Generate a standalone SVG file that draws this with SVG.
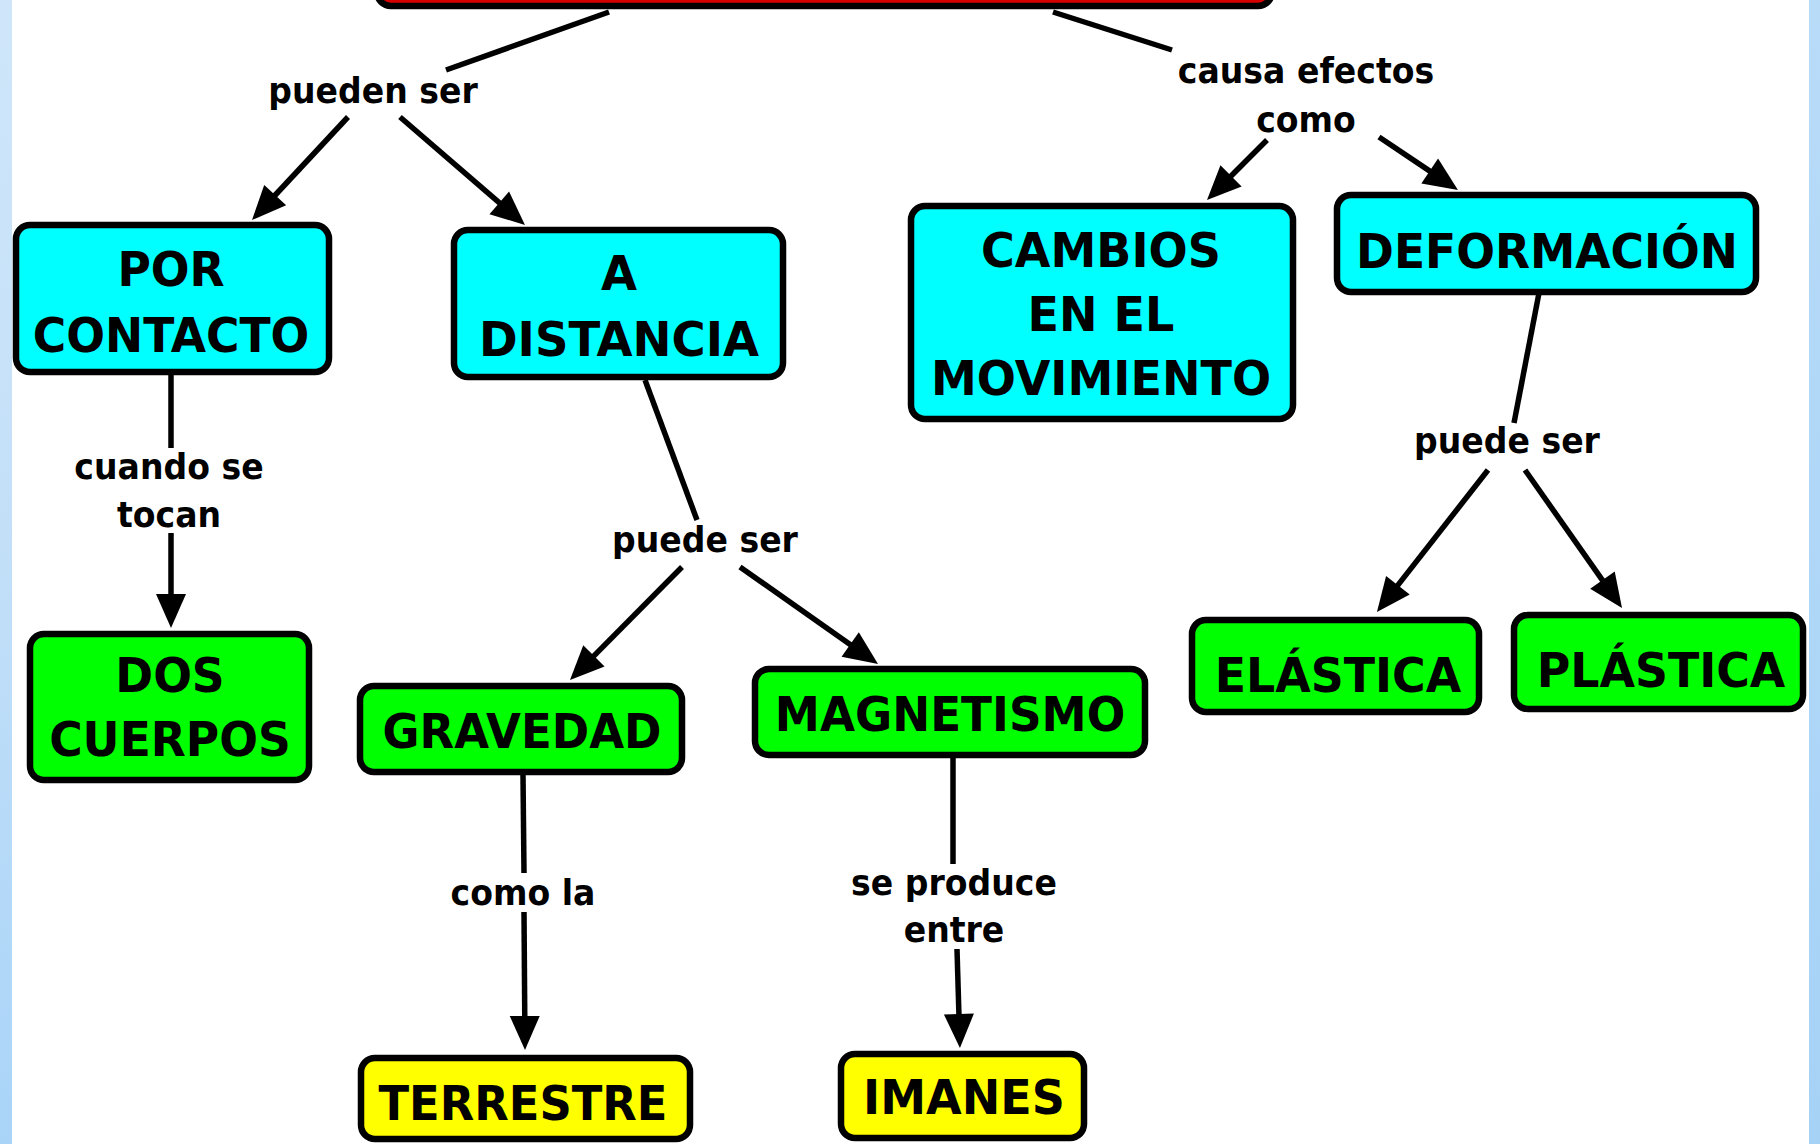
<svg xmlns="http://www.w3.org/2000/svg" width="1820" height="1144" viewBox="0 0 1820 1144">
<style>
.n rect{stroke:#000;stroke-width:6.5}
.cyan{fill:#00ffff}
.green{fill:#00ff00}
.yellow{fill:#ffff00}
.red{fill:#d40000}
.nt{font-family:"DejaVu Sans","Verdana",sans-serif;font-weight:bold;font-size:48.5px;fill:#000;text-anchor:middle}
.lt{font-family:"DejaVu Sans","Verdana",sans-serif;font-weight:bold;font-size:36px;fill:#000;text-anchor:middle}
#connectors line{stroke:#000;stroke-width:5.5;fill:none}
#connectors line.a{marker-end:url(#arr)}
</style>
<defs>
<marker id="arr" markerUnits="userSpaceOnUse" markerWidth="34" markerHeight="30" refX="6" refY="15" orient="auto" overflow="visible">
<path d="M0,0 L34,15 L0,30 z" fill="#000"/>
</marker>
<linearGradient id="edgeL" x1="0" y1="0" x2="0" y2="1">
<stop offset="0" stop-color="#cfe6fa"/>
<stop offset="0.5" stop-color="#c2dff8"/>
<stop offset="1" stop-color="#a9d4f8"/>
</linearGradient>
<linearGradient id="edgeR" x1="0" y1="0" x2="0" y2="1">
<stop offset="0" stop-color="#b8dbf8"/>
<stop offset="1" stop-color="#a6d2f6"/>
</linearGradient>
</defs>
<rect x="0" y="0" width="1820" height="1144" fill="#ffffff"/>
<rect x="0" y="0" width="12" height="1144" fill="url(#edgeL)"/>
<rect x="1809" y="0" width="11" height="1144" fill="url(#edgeR)"/>

<g id="connectors">
<line x1="609" y1="12" x2="446" y2="70"/>
<line class="a" x1="348" y1="117" x2="271.1" y2="199.5"/>
<line class="a" x1="400" y1="117" x2="503.8" y2="206.7"/>
<line x1="1053" y1="12" x2="1172" y2="50"/>
<line class="a" x1="1267" y1="140" x2="1226.8" y2="180.2"/>
<line class="a" x1="1379" y1="137" x2="1434.7" y2="174.4"/>
<line x1="171" y1="375" x2="171" y2="448"/>
<line class="a" x1="171" y1="533" x2="171" y2="600"/>
<line x1="645" y1="380" x2="697" y2="520"/>
<line class="a" x1="682" y1="567" x2="589.7" y2="660.1"/>
<line class="a" x1="740" y1="567" x2="855.1" y2="647.9"/>
<line x1="1539" y1="293" x2="1514" y2="423"/>
<line class="a" x1="1488" y1="470" x2="1394.2" y2="589.9"/>
<line class="a" x1="1525" y1="470" x2="1605.9" y2="585.1"/>
<line x1="523" y1="775" x2="524" y2="873"/>
<line class="a" x1="524" y1="912" x2="524.8" y2="1022"/>
<line x1="953" y1="758" x2="953" y2="864"/>
<line class="a" x1="957" y1="949" x2="959.1" y2="1020"/>
</g>

<g id="labels">
<text class="lt" transform="translate(373,103) scale(0.92,1)">pueden ser</text>
<text class="lt" transform="translate(1306,83) scale(0.92,1)">causa efectos</text>
<text class="lt" transform="translate(1306,132) scale(0.92,1)">como</text>
<text class="lt" transform="translate(169,479) scale(0.92,1)">cuando se</text>
<text class="lt" transform="translate(169,527) scale(0.92,1)">tocan</text>
<text class="lt" transform="translate(705,552) scale(0.92,1)">puede ser</text>
<text class="lt" transform="translate(1507,453) scale(0.92,1)">puede ser</text>
<text class="lt" transform="translate(523,905) scale(0.92,1)">como la</text>
<text class="lt" transform="translate(954,895) scale(0.92,1)">se produce</text>
<text class="lt" transform="translate(954,942) scale(0.92,1)">entre</text>
</g>

<g id="node-root" class="n">
<rect class="red" x="377" y="-100" width="895" height="106" rx="14"/>
</g>
<g id="node-por-contacto" class="n">
<rect class="cyan" x="16" y="225" width="313" height="147" rx="14"/>
<text class="nt" transform="translate(171,286) scale(0.94,1)">POR</text>
<text class="nt" transform="translate(171,352) scale(0.94,1)">CONTACTO</text>
</g>
<g id="node-a-distancia" class="n">
<rect class="cyan" x="454" y="230" width="329" height="147" rx="14"/>
<text class="nt" transform="translate(619,290) scale(0.96,1)">A</text>
<text class="nt" transform="translate(619,356) scale(0.96,1)">DISTANCIA</text>
</g>
<g id="node-cambios" class="n">
<rect class="cyan" x="911" y="206" width="382" height="213" rx="14"/>
<text class="nt" transform="translate(1101,267) scale(0.95,1)">CAMBIOS</text>
<text class="nt" transform="translate(1101,331) scale(0.95,1)">EN EL</text>
<text class="nt" transform="translate(1101,395) scale(0.95,1)">MOVIMIENTO</text>
</g>
<g id="node-deformacion" class="n">
<rect class="cyan" x="1337" y="195" width="419" height="97" rx="14"/>
<text class="nt" transform="translate(1547,268) scale(0.94,1)">DEFORMACIÓN</text>
</g>
<g id="node-dos-cuerpos" class="n">
<rect class="green" x="30" y="634" width="279" height="146" rx="14"/>
<text class="nt" transform="translate(170,692) scale(0.94,1)">DOS</text>
<text class="nt" transform="translate(170,756) scale(0.94,1)">CUERPOS</text>
</g>
<g id="node-gravedad" class="n">
<rect class="green" x="360" y="686" width="322" height="86" rx="14"/>
<text class="nt" transform="translate(522,748) scale(0.93,1)">GRAVEDAD</text>
</g>
<g id="node-magnetismo" class="n">
<rect class="green" x="755" y="669" width="390" height="86" rx="14"/>
<text class="nt" transform="translate(950,731) scale(0.935,1)">MAGNETISMO</text>
</g>
<g id="node-elastica" class="n">
<rect class="green" x="1192" y="620" width="287" height="92" rx="14"/>
<text class="nt" transform="translate(1338,692) scale(0.945,1)">ELÁSTICA</text>
</g>
<g id="node-plastica" class="n">
<rect class="green" x="1514" y="615" width="289" height="94" rx="14"/>
<text class="nt" transform="translate(1661,687) scale(0.945,1)">PLÁSTICA</text>
</g>
<g id="node-terrestre" class="n">
<rect class="yellow" x="361" y="1058" width="329" height="81" rx="14"/>
<text class="nt" transform="translate(523,1120) scale(0.925,1)">TERRESTRE</text>
</g>
<g id="node-imanes" class="n">
<rect class="yellow" x="841" y="1054" width="243" height="84" rx="14"/>
<text class="nt" transform="translate(964,1114) scale(0.95,1)">IMANES</text>
</g>
</svg>
